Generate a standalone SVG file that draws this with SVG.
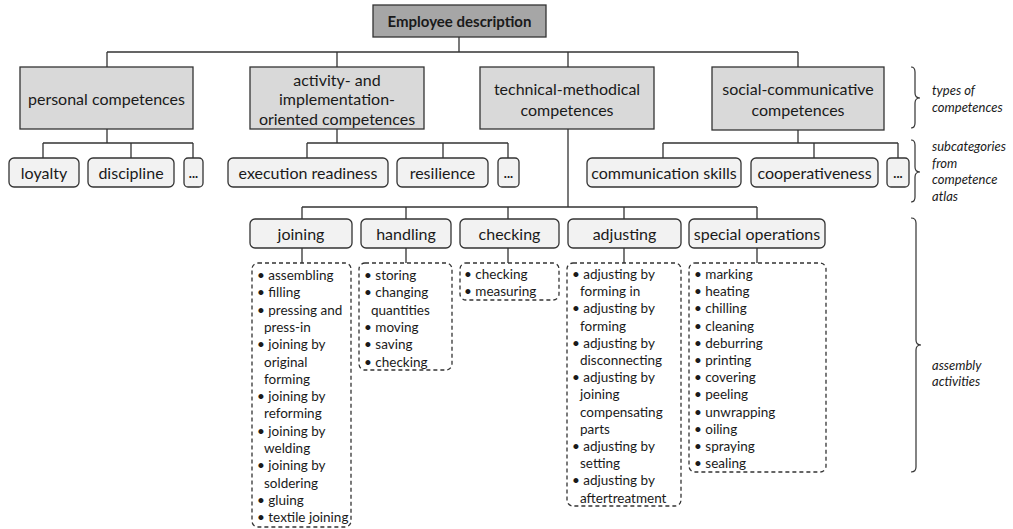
<svg xmlns="http://www.w3.org/2000/svg" width="1013" height="529" viewBox="0 0 1013 529">
<style>
text{font-family:Lato,"Open Sans","Liberation Sans",sans-serif;fill:#1a1a1a}
.t{font-size:16px;text-anchor:middle;dominant-baseline:central}
.b{font-weight:bold;font-size:15px}
.l{font-size:13.5px}
.s{font-size:13px;font-style:italic}
.top{fill:#a6a6a6;stroke:#333;stroke-width:1.3}
.c1{fill:#d9d9d9;stroke:#333;stroke-width:1.3}
.c2{fill:#f2f2f2;stroke:#333;stroke-width:1.3}
.d{fill:#fff;stroke:#333;stroke-width:1.3;stroke-dasharray:4 3}
.ln{fill:none;stroke:#333;stroke-width:1.3}
.br{fill:none;stroke:#333;stroke-width:1.2}
</style>
<rect width="1013" height="529" fill="#fff"/>
<g id="connectors" class="ln">
<path d="M459,37V52M107,52H798M107,52V67M337,52V67M568,52V67M798,52V67"/>
<path d="M107,129V143M43,143H193M43,143V158M131,143V158M193,143V158"/>
<path d="M337,129V143M307,143H508M307,143V158M443,143V158M508,143V158"/>
<path d="M798,130V143M663,143H898M663,143V158M814,143V158M898,143V158"/>
<path d="M568,129V207M302,207H757M302,207V219M406,207V219M508,207V219M624,207V219M757,207V219"/>
<path d="M302,248V263M406,248V263M508,248V263M624,248V263M757,248V263"/>
</g>
<g id="employee-description"><rect class="top" x="373" y="5" width="173" height="32"/><text class="t b" x="459.5" y="21">Employee description</text></g>
<g id="personal-competences"><rect class="c1" x="20" y="67" width="173" height="62"/><text class="t" x="106.5" y="98">personal competences</text></g>
<g id="activity-competences"><rect class="c1" x="250" y="67" width="174" height="62"/><text class="t" x="337" y="79">activity- and</text><text class="t" x="337" y="98.5">implementation-</text><text class="t" x="337" y="118">oriented competences</text></g>
<g id="technical-competences"><rect class="c1" x="480" y="67" width="174" height="62"/><text class="t" x="567" y="88">technical-methodical</text><text class="t" x="567" y="109">competences</text></g>
<g id="social-competences"><rect class="c1" x="712" y="67" width="172" height="63"/><text class="t" x="798" y="88.5">social-communicative</text><text class="t" x="798" y="109">competences</text></g>
<g id="loyalty"><rect class="c2" x="9" y="158" width="70" height="29" rx="5"/><text class="t" x="44" y="172.5">loyalty</text></g>
<g id="discipline"><rect class="c2" x="88" y="158" width="86" height="29" rx="5"/><text class="t" x="131" y="172.5">discipline</text></g>
<g id="personal-more"><rect class="c2" x="184" y="158" width="19" height="29" rx="4"/><text class="t" x="193.5" y="172.5" style="font-size:13px;font-weight:bold">...</text></g>
<g id="execution-readiness"><rect class="c2" x="228" y="158" width="160" height="29" rx="5"/><text class="t" x="308" y="172.5">execution readiness</text></g>
<g id="resilience"><rect class="c2" x="397" y="158" width="91" height="29" rx="5"/><text class="t" x="442.5" y="172.5">resilience</text></g>
<g id="activity-more"><rect class="c2" x="498" y="158" width="21" height="29" rx="4"/><text class="t" x="508.5" y="172.5" style="font-size:13px;font-weight:bold">...</text></g>
<g id="communication-skills"><rect class="c2" x="587" y="158" width="154" height="29" rx="5"/><text class="t" x="664" y="172.5">communication skills</text></g>
<g id="cooperativeness"><rect class="c2" x="751" y="158" width="127" height="29" rx="5"/><text class="t" x="814.5" y="172.5">cooperativeness</text></g>
<g id="social-more"><rect class="c2" x="887" y="158" width="22" height="29" rx="4"/><text class="t" x="898" y="172.5" style="font-size:13px;font-weight:bold">...</text></g>
<g id="joining"><rect class="c2" x="250" y="219" width="102" height="29" rx="5"/><text class="t" x="301" y="233.5">joining</text></g>
<g id="handling"><rect class="c2" x="361" y="219" width="90" height="29" rx="5"/><text class="t" x="406" y="233.5">handling</text></g>
<g id="checking"><rect class="c2" x="460" y="219" width="99" height="29" rx="5"/><text class="t" x="509.5" y="233.5">checking</text></g>
<g id="adjusting"><rect class="c2" x="568" y="219" width="113" height="29" rx="5"/><text class="t" x="624.5" y="233.5">adjusting</text></g>
<g id="special-operations"><rect class="c2" x="689" y="219" width="136" height="29" rx="5"/><text class="t" x="757" y="233.5">special operations</text></g>
<g id="joining-list"><rect class="d" x="252" y="263" width="99" height="264" rx="6"/>
<text class="l" x="257" y="280">• assembling</text>
<text class="l" x="257" y="297.3">• filling</text>
<text class="l" x="257" y="314.6">• pressing and</text>
<text class="l" x="264" y="331.9">press-in</text>
<text class="l" x="257" y="349.2">• joining by</text>
<text class="l" x="264" y="366.5">original</text>
<text class="l" x="264" y="383.8">forming</text>
<text class="l" x="257" y="401.1">• joining by</text>
<text class="l" x="264" y="418.4">reforming</text>
<text class="l" x="257" y="435.7">• joining by</text>
<text class="l" x="264" y="453">welding</text>
<text class="l" x="257" y="470.3">• joining by</text>
<text class="l" x="264" y="487.6">soldering</text>
<text class="l" x="257" y="504.9">• gluing</text>
<text class="l" x="257" y="522.2">• textile joining</text>
</g>
<g id="handling-list"><rect class="d" x="359" y="263" width="93" height="107" rx="6"/>
<text class="l" x="364" y="280">• storing</text>
<text class="l" x="364" y="297.3">• changing</text>
<text class="l" x="371" y="314.6">quantities</text>
<text class="l" x="364" y="331.9">• moving</text>
<text class="l" x="364" y="349.2">• saving</text>
<text class="l" x="364" y="366.5">• checking</text>
</g>
<g id="checking-list"><rect class="d" x="460" y="263" width="99" height="37" rx="6"/>
<text class="l" x="464" y="279">• checking</text>
<text class="l" x="464" y="296">• measuring</text>
</g>
<g id="adjusting-list"><rect class="d" x="567" y="263" width="114" height="243" rx="6"/>
<text class="l" x="572" y="279">• adjusting by</text>
<text class="l" x="580" y="296.2">forming in</text>
<text class="l" x="572" y="313.4">• adjusting by</text>
<text class="l" x="580" y="330.6">forming</text>
<text class="l" x="572" y="347.8">• adjusting by</text>
<text class="l" x="580" y="365">disconnecting</text>
<text class="l" x="572" y="382.2">• adjusting by</text>
<text class="l" x="580" y="399.4">joining</text>
<text class="l" x="580" y="416.6">compensating</text>
<text class="l" x="580" y="433.8">parts</text>
<text class="l" x="572" y="451">• adjusting by</text>
<text class="l" x="580" y="468.2">setting</text>
<text class="l" x="572" y="485.4">• adjusting by</text>
<text class="l" x="580" y="502.6">aftertreatment</text>
</g>
<g id="special-operations-list"><rect class="d" x="689" y="263" width="137" height="209" rx="6"/>
<text class="l" x="694" y="279">• marking</text>
<text class="l" x="694" y="296.2">• heating</text>
<text class="l" x="694" y="313.4">• chilling</text>
<text class="l" x="694" y="330.6">• cleaning</text>
<text class="l" x="694" y="347.8">• deburring</text>
<text class="l" x="694" y="365">• printing</text>
<text class="l" x="694" y="382.2">• covering</text>
<text class="l" x="694" y="399.4">• peeling</text>
<text class="l" x="694" y="416.6">• unwrapping</text>
<text class="l" x="694" y="433.8">• oiling</text>
<text class="l" x="694" y="451">• spraying</text>
<text class="l" x="694" y="468.2">• sealing</text>
</g>
<g id="brace-types">
<path class="br" d="M911,67Q915,67 915,72V93Q915,98 920,98Q915,98 915,103V123Q915,128 911,128"/>
<text class="s" x="932" y="95">types of</text><text class="s" x="932" y="112">competences</text>
</g>
<g id="brace-subcategories">
<path class="br" d="M911,140Q915,140 915,145V167Q915,172 920,172Q915,172 915,177V197Q915,202 911,202"/>
<text class="s" x="932" y="151">subcategories</text><text class="s" x="932" y="167.5">from</text><text class="s" x="932" y="184">competence</text><text class="s" x="932" y="200.5">atlas</text>
</g>
<g id="brace-assembly">
<path class="br" d="M911,218Q916,218 916,223V340Q916,345 921,345Q916,345 916,350V467Q916,472 911,472"/>
<text class="s" x="932" y="370">assembly</text><text class="s" x="932" y="386">activities</text>
</g>
</svg>
